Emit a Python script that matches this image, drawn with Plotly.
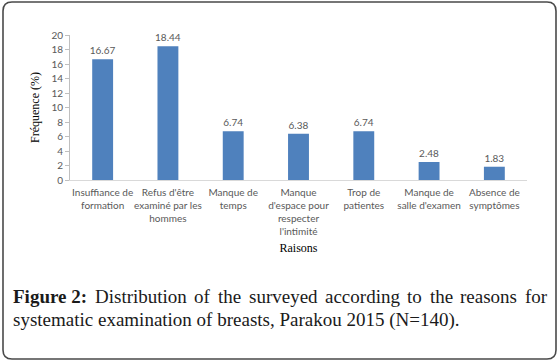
import plotly.graph_objects as go

categories = [
    "Insuffiance de<br>formation",
    "Refus d'être<br>examiné par les<br>hommes",
    "Manque de<br>temps",
    "Manque<br>d'espace pour<br>respecter<br>l'intimité",
    "Trop de<br>patientes",
    "Manque de<br>salle d'examen",
    "Absence de<br>symptômes",
]
values = [16.67, 18.44, 6.74, 6.38, 6.74, 2.48, 1.83]
value_labels = ["16.67", "18.44", "6.74", "6.38", "6.74", "2.48", "1.83"]
y_ticks = list(range(0, 21, 2))

caption_bold = "Figure 2:"
caption_line1 = ["Distribution", "of", "the", "surveyed", "according", "to", "the", "reasons", "for"]
caption_line2 = "systematic examination of breasts, Parakou 2015 (N=140)."

W, H = 560, 362
L, R, T, B = 70, 33, 35, 182
pw, ph = W - L - R, H - T - B

def px_x(x):
    return (x - L) / pw

def px_y(y):
    return (H - B - y) / ph

# Times-compatible metrics (Liberation Serif), 1/1000 em
REG = {" ": 250, "a": 444, "b": 500, "c": 444, "d": 500, "e": 444, "f": 333, "g": 500,
       "h": 500, "i": 278, "n": 500, "o": 500, "r": 333, "s": 389, "t": 278, "u": 500,
       "v": 500, "y": 500, "D": 722}
BOLD = {"F": 611, "i": 278, "g": 500, "u": 556, "r": 444, "e": 444, " ": 250, "2": 500, ":": 333}

def width(s, table, size):
    return sum(table.get(c, 500) for c in s) * size / 1000.0

cap_size = 19
cap_font = dict(family="Liberation Serif, Times New Roman, serif", size=cap_size, color="#1a1a1a")
left_px, right_px = 13, 547
line1_y, line2_y = 296, 320

words = [(caption_bold, BOLD)] + [(w, REG) for w in caption_line1]
widths = [width(w, t, cap_size) for w, t in words]
gap = (right_px - left_px - sum(widths)) / (len(words) - 1)

annotations = []
xpos = left_px
for (w, t), wd in zip(words, widths):
    txt = f"<b>{w}</b>" if t is BOLD else w
    annotations.append(dict(xref="paper", yref="paper", x=px_x(xpos - 2), y=px_y(line1_y),
                            xanchor="left", yanchor="middle", showarrow=False, text=txt,
                            font=cap_font))
    xpos += wd + gap
annotations.append(dict(xref="paper", yref="paper", x=px_x(left_px - 2), y=px_y(line2_y),
                        xanchor="left", yanchor="middle", showarrow=False, align="left",
                        text=caption_line2, font=cap_font))

fig = go.Figure(go.Bar(
    x=categories, y=values, text=value_labels, textposition="outside",
    textfont=dict(family="Lato, Liberation Sans, sans-serif", size=10, color="#595959"),
    marker=dict(color="#4F81BD", line=dict(width=0)),
    width=0.32, cliponaxis=False,
))

# rounded frame path
x0, y0, x1, y1, r = 3, 2, 556, 359, 9
path = (
    f"M {px_x(x0+r)},{px_y(y0)} L {px_x(x1-r)},{px_y(y0)} "
    f"Q {px_x(x1)},{px_y(y0)} {px_x(x1)},{px_y(y0+r)} "
    f"L {px_x(x1)},{px_y(y1-r)} Q {px_x(x1)},{px_y(y1)} {px_x(x1-r)},{px_y(y1)} "
    f"L {px_x(x0+r)},{px_y(y1)} Q {px_x(x0)},{px_y(y1)} {px_x(x0)},{px_y(y1-r)} "
    f"L {px_x(x0)},{px_y(y0+r)} Q {px_x(x0)},{px_y(y0)} {px_x(x0+r)},{px_y(y0)} Z"
)

fig.update_layout(
    width=W, height=H,
    margin=dict(l=L, r=R, t=T, b=B, autoexpand=False),
    paper_bgcolor="white", plot_bgcolor="white",
    showlegend=False,
    uniformtext=dict(mode=False),
    shapes=[dict(type="path", xref="paper", yref="paper", path=path,
                 line=dict(color="#4a4a4a", width=1.6), fillcolor="rgba(0,0,0,0)", layer="above")],
    xaxis=dict(
        showline=True, linecolor="#D9D9D9", linewidth=1, ticks="",
        tickfont=dict(family="Lato, Liberation Sans, sans-serif", size=10, color="#595959"),
        tickangle=0, ticklabelstandoff=3, automargin=False,
        title=dict(text="Raisons", font=dict(family="Liberation Serif, serif", size=12, color="black"), standoff=7),
    ),
    yaxis=dict(
        range=[0, 20], tickvals=y_ticks, showgrid=False, zeroline=False,
        showline=True, linecolor="#BFBFBF", linewidth=1,
        ticks="outside", ticklen=4, tickcolor="#BFBFBF", automargin=False,
        tickfont=dict(family="Lato, Liberation Sans, sans-serif", size=10, color="#595959"),
        title=dict(text="Fréquence (%)", font=dict(family="Liberation Serif, serif", size=12, color="black"), standoff=9),
    ),
    annotations=annotations,
)
fig.update_traces(constraintext="none")

fig.write_html("out.html", config={"displayModeBar": False},
               post_script="document.body.style.margin='0';")
